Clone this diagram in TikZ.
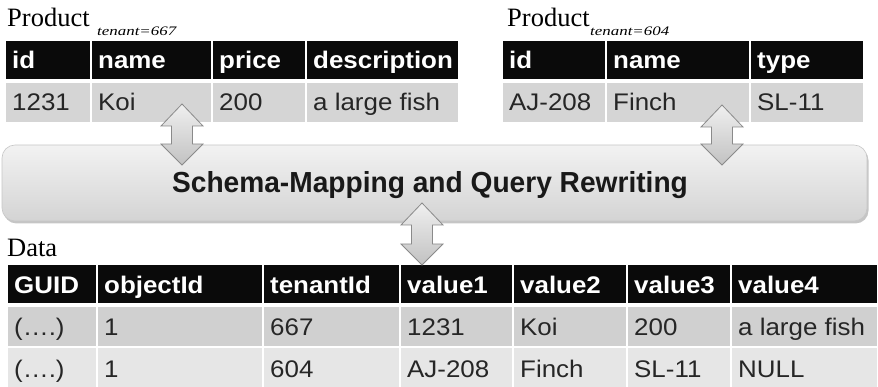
\documentclass[tikz,border=0pt]{standalone}
\usepackage{fontspec}
\setmainfont{Liberation Serif}
\newfontfamily\tabfont{Liberation Sans}[FakeStretch=1.08]
\newfontfamily\bandfont{Liberation Sans}[FakeStretch=0.97]
\usetikzlibrary{shadows}

\definecolor{hdrblack}{HTML}{0A0A0A}
\definecolor{rowgray}{HTML}{D5D5D5}
\definecolor{rowdark}{HTML}{D0D0D0}
\definecolor{rowlight}{HTML}{E6E6E6}
\definecolor{arrowedge}{HTML}{8A8A8A}

\tikzset{
  hdrcell/.style={fill=hdrblack},
  datacell/.style={fill=rowgray},
  darkcell/.style={fill=rowdark},
  lightcell/.style={fill=rowlight},
  hdrtext/.style={inner sep=0pt, anchor=base west, text=white,
    font=\tabfont\bfseries\fontsize{24}{24}\selectfont},
  celltext/.style={inner sep=0pt, anchor=base west, text=black!85,
    font=\tabfont\fontsize{24}{24}\selectfont},
  tabletitle/.style={inner sep=0pt, anchor=base west,
    font=\fontsize{26.5}{26.5}\selectfont},
  tenantsub/.style={inner sep=0pt, anchor=base west,
    font=\itshape\fontsize{13}{13}\selectfont},
  band/.style={rounded corners=13pt, top color=white!95!black,
    bottom color=black!17, draw=black!22, line width=0.6pt,
    drop shadow={shadow xshift=1.5pt, shadow yshift=-2.5pt,
      fill=black!45, opacity=0.5}},
  bandtext/.style={inner sep=0pt, anchor=base,
    font=\bandfont\bfseries\fontsize{29}{29}\selectfont, text=black!90},
  blockarrow/.style={top color=black!6, bottom color=black!24,
    draw=arrowedge, line width=0.8pt, line join=miter},
}

% one table cell: name, cell style, text style, x1, x2, y1, y2, baseline, text
\newcommand\tabcell[9]{%
  \fill[#2] (#4,#6) rectangle (#5,#7);
  \node[#3] (#1) at ({#4+6},#8) {#9};
}
% vertical double block arrow: centre x, top tip y, bottom tip y
\newcommand\twowayarrow[3]{%
  \path[blockarrow] (#1,#2) -- ({#1+21},{#2+22}) -- ({#1+10.5},{#2+22})
    -- ({#1+10.5},{#3-21}) -- ({#1+21},{#3-21}) -- (#1,#3)
    -- ({#1-21},{#3-21}) -- ({#1-10.5},{#3-21}) -- ({#1-10.5},{#2+22})
    -- ({#1-21},{#2+22}) -- cycle;
}

\begin{document}
\begin{tikzpicture}[x=1pt, y=-1pt]
\useasboundingbox (0,0) rectangle (878,387);

% ---------- Product table of tenant 667 ----------
\node[tabletitle] (titleA) at (7,27) {Product};
\node[tenantsub] (subA) at (97,36) {\scalebox{1.3}[1]{tenant=667}};
\tabcell{a-id}{hdrcell}{hdrtext}{6}{90}{41}{79}{69}{id}
\tabcell{a-name}{hdrcell}{hdrtext}{92}{211}{41}{79}{69}{name}
\tabcell{a-price}{hdrcell}{hdrtext}{213}{305}{41}{79}{69}{price}
\tabcell{a-desc}{hdrcell}{hdrtext}{307}{458}{41}{79}{69}{description}
\tabcell{a-1}{datacell}{celltext}{6}{90}{83}{122}{111}{1231}
\tabcell{a-2}{datacell}{celltext}{92}{211}{83}{122}{111}{Koi}
\tabcell{a-3}{datacell}{celltext}{213}{305}{83}{122}{111}{200}
\tabcell{a-4}{datacell}{celltext}{307}{458}{83}{122}{111}{a large fish}

% ---------- Product table of tenant 604 ----------
\node[tabletitle] (titleB) at (507,27) {Product};
\node[tenantsub] (subB) at (590,36) {\scalebox{1.3}[1]{tenant=604}};
\tabcell{b-id}{hdrcell}{hdrtext}{503}{605}{41}{79}{69}{id}
\tabcell{b-name}{hdrcell}{hdrtext}{607}{749}{41}{79}{69}{name}
\tabcell{b-type}{hdrcell}{hdrtext}{751}{863}{41}{79}{69}{type}
\tabcell{b-1}{datacell}{celltext}{503}{605}{83}{122}{111}{AJ-208}
\tabcell{b-2}{datacell}{celltext}{607}{749}{83}{122}{111}{Finch}
\tabcell{b-3}{datacell}{celltext}{751}{863}{83}{122}{111}{SL-11}

% ---------- mapping layer ----------
\path[band] (2,145) rectangle (867,221);
\node[bandtext] (rewrite) at (430,193) {Schema-Mapping and Query Rewriting};

% ---------- shared Data table ----------
\node[tabletitle] (titleC) at (7,257) {Data};
\tabcell{c-guid}{hdrcell}{hdrtext}{8}{96}{265}{303}{294}{GUID}
\tabcell{c-obj}{hdrcell}{hdrtext}{98}{262}{265}{303}{294}{objectId}
\tabcell{c-ten}{hdrcell}{hdrtext}{264}{399}{265}{303}{294}{tenantId}
\tabcell{c-v1}{hdrcell}{hdrtext}{401}{512}{265}{303}{294}{value1}
\tabcell{c-v2}{hdrcell}{hdrtext}{514}{626}{265}{303}{294}{value2}
\tabcell{c-v3}{hdrcell}{hdrtext}{628}{730}{265}{303}{294}{value3}
\tabcell{c-v4}{hdrcell}{hdrtext}{732}{877}{265}{303}{294}{value4}

\tabcell{r1-guid}{darkcell}{celltext}{8}{96}{307}{346}{335}{(\dots.)}
\tabcell{r1-obj}{darkcell}{celltext}{98}{262}{307}{346}{335}{1}
\tabcell{r1-ten}{darkcell}{celltext}{264}{399}{307}{346}{335}{667}
\tabcell{r1-v1}{darkcell}{celltext}{401}{512}{307}{346}{335}{1231}
\tabcell{r1-v2}{darkcell}{celltext}{514}{626}{307}{346}{335}{Koi}
\tabcell{r1-v3}{darkcell}{celltext}{628}{730}{307}{346}{335}{200}
\tabcell{r1-v4}{darkcell}{celltext}{732}{877}{307}{346}{335}{a large fish}

\tabcell{r2-guid}{lightcell}{celltext}{8}{96}{348}{387}{377}{(\dots.)}
\tabcell{r2-obj}{lightcell}{celltext}{98}{262}{348}{387}{377}{1}
\tabcell{r2-ten}{lightcell}{celltext}{264}{399}{348}{387}{377}{604}
\tabcell{r2-v1}{lightcell}{celltext}{401}{512}{348}{387}{377}{AJ-208}
\tabcell{r2-v2}{lightcell}{celltext}{514}{626}{348}{387}{377}{Finch}
\tabcell{r2-v3}{lightcell}{celltext}{628}{730}{348}{387}{377}{SL-11}
\tabcell{r2-v4}{lightcell}{celltext}{732}{877}{348}{387}{377}{NULL}

% ---------- two-way arrows between the layers ----------
\twowayarrow{182}{104}{165}
\twowayarrow{722}{105}{165}
\twowayarrow{422}{203}{265}
\end{tikzpicture}
\end{document}
